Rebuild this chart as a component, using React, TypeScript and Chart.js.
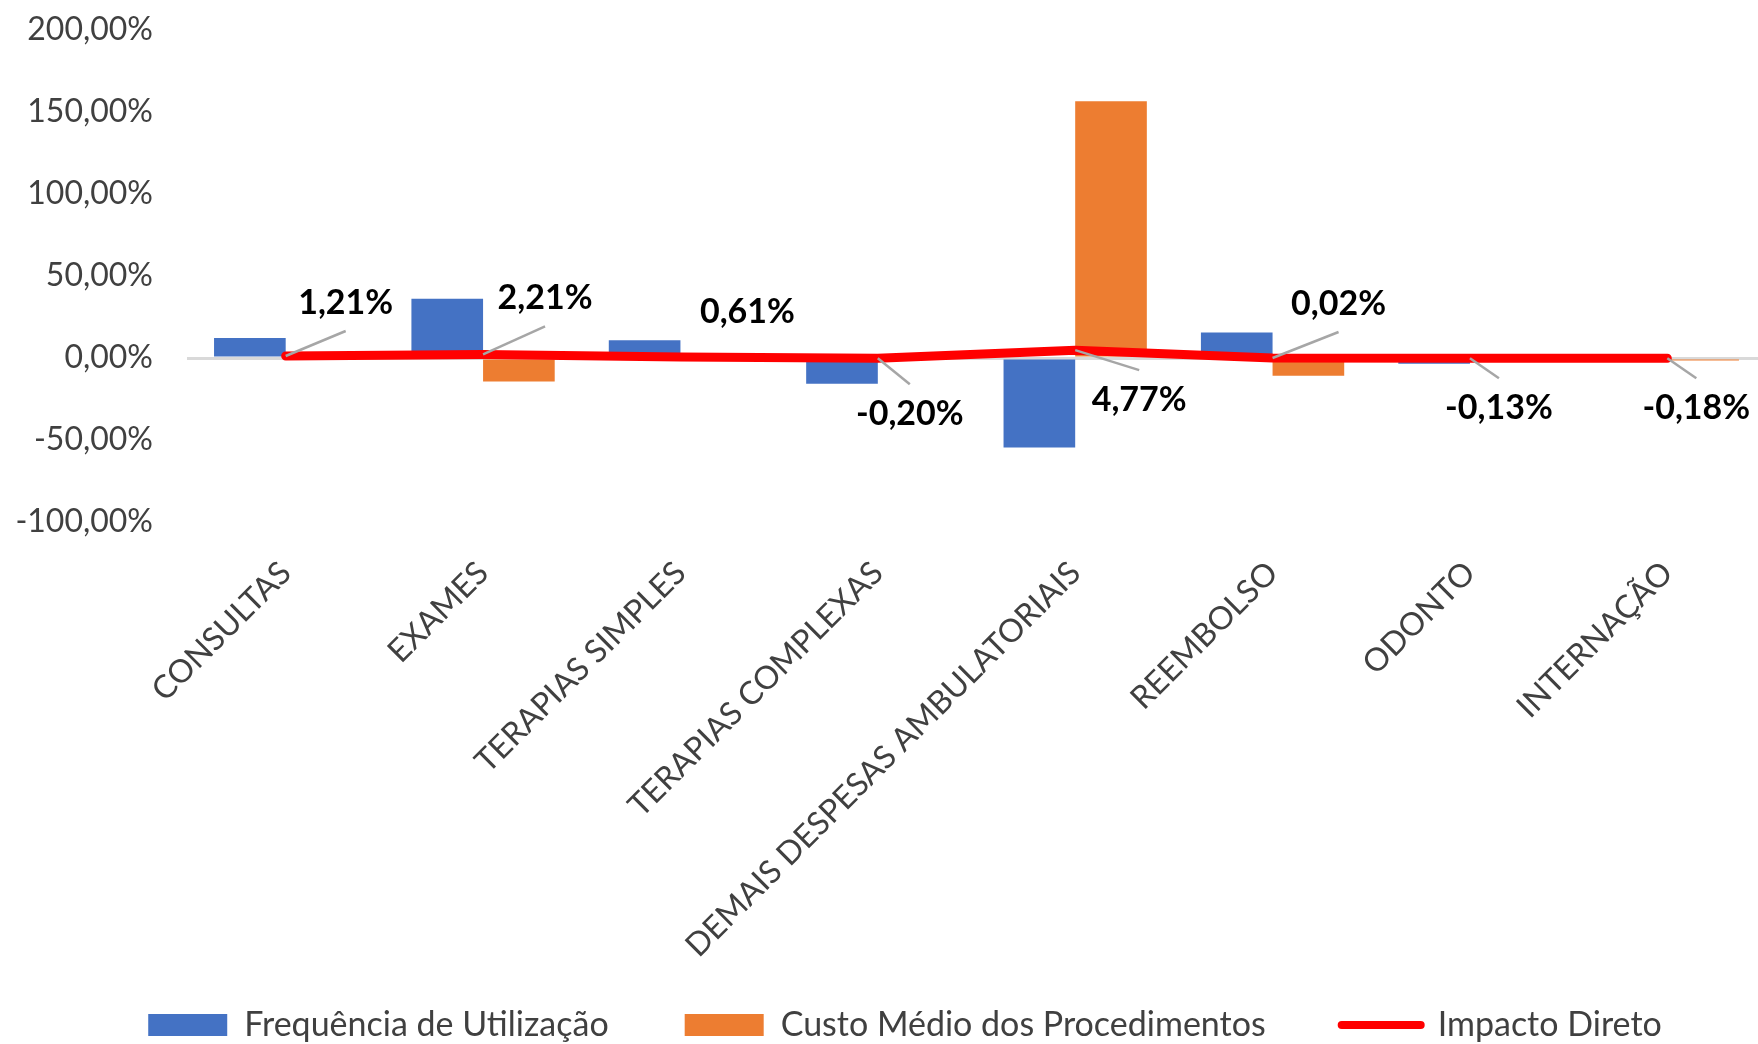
import React, { useEffect, useRef } from 'react';
import { Chart, registerables } from 'chart.js';

Chart.register(...registerables);

const categories = [
  'CONSULTAS',
  'EXAMES',
  'TERAPIAS SIMPLES',
  'TERAPIAS COMPLEXAS',
  'DEMAIS DESPESAS AMBULATORIAIS',
  'REEMBOLSO',
  'ODONTO',
  'INTERNAÇÃO',
];
const seriesNames = ['Frequência de Utilização', 'Custo Médio dos Procedimentos', 'Impacto Direto'];
const frequenciaUtilizacao = [12.2, 36.2, 10.8, -15.7, -54.5, 15.6, -3.5, 0];
const custoMedio = [0, -14.4, 0, 0, 156.5, -10.8, 0, -1.5];
const impactoDireto = [1.21, 2.21, 0.61, -0.2, 4.77, 0.02, -0.13, -0.18];
const yTicks = [-100, -50, 0, 50, 100, 150, 200];

// label placement (style): offsets from the line point, and whether a leader line is drawn
const labelOffsets: [number, number][] = [
  [60, -53], [62, -56], [67, -45], [32, 56], [64, 50], [66, -54], [29, 50], [29, 50],
];
const leaderVisible = [true, true, false, true, true, true, true, true];

const FONT = 'Lato';
const fmt = (v: number) => v.toFixed(2).replace('.', ',') + '%';

const labelPlugin = {
  id: 'impactLabels',
  afterLayout(chart: any) {
    const lg = chart.legend;
    if (lg) {
      lg.left += 22;
      lg.right += 22;
    }
  },
  afterDatasetsDraw(chart: any) {
    const meta = chart.getDatasetMeta(2);
    const ctx = chart.ctx;
    ctx.save();
    meta.data.forEach((pt: any, i: number) => {
      const [dx, dy] = labelOffsets[i];
      const lx = pt.x + dx;
      const ly = pt.y + dy;
      if (leaderVisible[i]) {
        ctx.beginPath();
        ctx.strokeStyle = '#A6A6A6';
        ctx.lineWidth = 2.5;
        ctx.moveTo(pt.x, pt.y);
        ctx.lineTo(lx, ly + (dy < 0 ? 28 : -30));
        ctx.stroke();
      }
      ctx.font = `bold 34px ${FONT}`;
      ctx.fillStyle = '#000000';
      ctx.textAlign = 'center';
      ctx.textBaseline = 'middle';
      ctx.fillText(fmt(impactoDireto[i]), lx, ly);
    });
    ctx.restore();
  },
};

export default function App() {
  const ref = useRef<HTMLCanvasElement | null>(null);
  useEffect(() => {
    if (!ref.current) return;
    const chart = new Chart(ref.current, {
      type: 'bar',
      data: {
        labels: categories,
        datasets: [
          {
            type: 'bar',
            label: seriesNames[0],
            data: frequenciaUtilizacao,
            backgroundColor: '#4472C4',
            categoryPercentage: 0.726,
            barPercentage: 1,
            order: 1,
          },
          {
            type: 'bar',
            label: seriesNames[1],
            data: custoMedio,
            backgroundColor: '#ED7D31',
            categoryPercentage: 0.726,
            barPercentage: 1,
            order: 1,
          },
          {
            type: 'line',
            label: seriesNames[2],
            data: impactoDireto,
            borderColor: '#FF0000',
            backgroundColor: '#FF0000',
            borderWidth: 9,
            pointRadius: 0,
            tension: 0,
            borderCapStyle: 'round',
            borderJoinStyle: 'round',
            order: 0,
          },
        ] as any,
      },
      options: {
        responsive: false,
        animation: false,
        layout: { padding: { top: 30, left: 0, right: 0, bottom: 0 } },
        scales: {
          x: {
            grid: { display: false, drawTicks: false },
            border: { display: false },
            ticks: {
              autoSkip: false,
              maxRotation: 45,
              minRotation: 45,
              padding: 32,
              color: '#404040',
              font: { family: FONT, size: 32 },
            },
            afterFit: (s: any) => {
              s.height = 410;
              // let the long rotated labels run past the axis box, as in the original
              s._computeLabelArea = () => undefined;
            },
          },
          y: {
            min: -100,
            max: 200,
            grid: {
              drawTicks: false,
              color: (c: any) => (c.tick && c.tick.value === 0 ? '#D9D9D9' : 'rgba(0,0,0,0)'),
              lineWidth: 3,
            },
            border: { display: false },
            ticks: {
              padding: 34,
              color: '#404040',
              font: { family: FONT, size: 32 },
              callback: (v: any) => fmt(Number(v)),
            },
            afterBuildTicks: (s: any) => {
              s.ticks = yTicks.map((v) => ({ value: v }));
            },
            afterFit: (s: any) => {
              s.width = 187;
              s.paddingTop = 18;
              s.paddingBottom = 18;
            },
          },
        },
        plugins: {
          tooltip: { enabled: false },
          legend: {
            position: 'bottom',
            labels: {
              usePointStyle: true,
              pointStyleWidth: 79,
              boxHeight: 22,
              padding: 76,
              color: '#404040',
              font: { family: FONT, size: 34 },
              sort: (a: any, b: any) => a.datasetIndex - b.datasetIndex,
              generateLabels: (ch: any) => {
                const items = Chart.defaults.plugins.legend.labels.generateLabels(ch);
                return items.map((it: any) => {
                  if (it.datasetIndex === 2) {
                    return { ...it, pointStyle: 'line', lineWidth: 8, strokeStyle: '#FF0000', lineCap: 'round' };
                  }
                  return { ...it, pointStyle: 'rect', lineWidth: 0 };
                });
              },
            },
          },
        },
      } as any,
      plugins: [labelPlugin],
    });
    return () => chart.destroy();
  }, []);

  return (
    <div
      style={{
        position: 'fixed',
        left: 0,
        top: 0,
        width: 1758,
        height: 1044,
        overflow: 'hidden',
        background: '#ffffff',
      }}
    >
      <canvas ref={ref} width={1766} height={1052} style={{ display: 'block' }} />
    </div>
  );
}
